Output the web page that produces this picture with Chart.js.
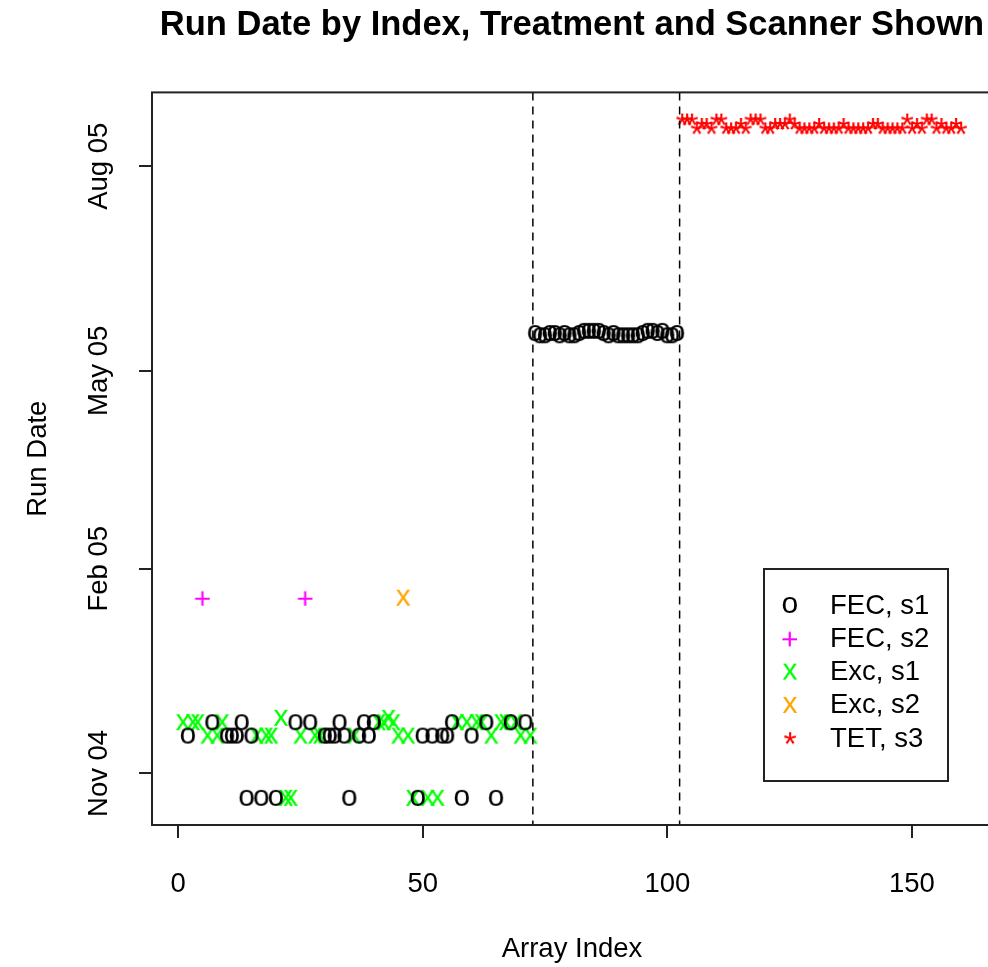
<!DOCTYPE html>
<html>
<head>
<meta charset="utf-8">
<title>Run Date by Index</title>
<script src="https://cdn.jsdelivr.net/npm/chart.js@4.4.1/dist/chart.umd.min.js"></script>
<style>
  html, body { margin: 0; padding: 0; background: #fff; overflow: hidden; }
  #wrap { width: 988px; height: 967px; overflow: hidden; }
  canvas { display: block; }
</style>
</head>
<body>
<div id="wrap"><canvas id="runDateChart" width="1144" height="967"></canvas></div>
<script>
// Array index and scan date for each treatment / scanner group
const fecS1Index = [2, 7, 10, 11, 12, 13, 14, 15, 17, 20, 24, 27, 30, 31, 32, 33, 34, 35, 37, 38,
  39, 40, 49, 50, 52, 54, 55, 56, 58, 60, 63, 65, 68, 71,
  73, 74, 75, 76, 77, 78, 79, 80, 81, 82, 83, 84, 85, 86, 87, 88, 89, 90, 91, 92, 93, 94, 95, 96,
  97, 98, 99, 100, 101, 102];
const fecS1Date = ['2004-11-18', '2004-11-24', '2004-11-18', '2004-11-18', '2004-11-18', '2004-11-24',
  '2004-10-21', '2004-11-18', '2004-10-21', '2004-10-21', '2004-11-24', '2004-11-24', '2004-11-18',
  '2004-11-18', '2004-11-18', '2004-11-24', '2004-11-18', '2004-10-21', '2004-11-18', '2004-11-24',
  '2004-11-18', '2004-11-24', '2004-10-21', '2004-11-18', '2004-11-18', '2004-11-18', '2004-11-18',
  '2004-11-24', '2004-10-21', '2004-11-18', '2004-11-24', '2004-10-21', '2004-11-24', '2004-11-24',
  '2005-05-18', '2005-05-17', '2005-05-17', '2005-05-18', '2005-05-18', '2005-05-17', '2005-05-18',
  '2005-05-17', '2005-05-17', '2005-05-18', '2005-05-19', '2005-05-19', '2005-05-19', '2005-05-19',
  '2005-05-18', '2005-05-17', '2005-05-18', '2005-05-17', '2005-05-17', '2005-05-17', '2005-05-17',
  '2005-05-17', '2005-05-18', '2005-05-19', '2005-05-19', '2005-05-18', '2005-05-19', '2005-05-17',
  '2005-05-17', '2005-05-18'];

const fecS2Index = [5, 26];
const fecS2Date = ['2005-01-19', '2005-01-19'];

const excS1Index = [1, 3, 4, 6, 8, 9, 16, 18, 19, 21, 22, 23, 25, 28, 29, 36, 41, 42, 43, 44,
  45, 47, 48, 51, 53, 57, 59, 61, 62, 64, 66, 67, 69, 70, 72];
const excS1Date = ['2004-11-24', '2004-11-24', '2004-11-24', '2004-11-18', '2004-11-18', '2004-11-24',
  '2004-11-18', '2004-11-18', '2004-11-18', '2004-11-26', '2004-10-21', '2004-10-21', '2004-11-18',
  '2004-11-18', '2004-11-18', '2004-11-18', '2004-11-24', '2004-11-24', '2004-11-26', '2004-11-24',
  '2004-11-18', '2004-11-18', '2004-10-21', '2004-10-21', '2004-10-21', '2004-11-24', '2004-11-24',
  '2004-11-24', '2004-11-24', '2004-11-18', '2004-11-24', '2004-11-24', '2004-11-24', '2004-11-18',
  '2004-11-18'];

const excS2Index = [46];
const excS2Date = ['2005-01-19'];

const tetS3Index = [103, 104, 105, 106, 107, 108, 109, 110, 111, 112, 113, 114, 115, 116, 117, 118,
  119, 120, 121, 122, 123, 124, 125, 126, 127, 128, 129, 130, 131, 132, 133, 134, 135, 136, 137,
  138, 139, 140, 141, 142, 143, 144, 145, 146, 147, 148, 149, 150, 151, 152, 153, 154, 155, 156,
  157, 158, 159, 160];
const tetS3Date = ['2005-08-22', '2005-08-22', '2005-08-22', '2005-08-18', '2005-08-20', '2005-08-20',
  '2005-08-18', '2005-08-22', '2005-08-22', '2005-08-18', '2005-08-18', '2005-08-18', '2005-08-20',
  '2005-08-18', '2005-08-22', '2005-08-22', '2005-08-22', '2005-08-18', '2005-08-18', '2005-08-20',
  '2005-08-20', '2005-08-20', '2005-08-22', '2005-08-20', '2005-08-18', '2005-08-18', '2005-08-18',
  '2005-08-18', '2005-08-20', '2005-08-18', '2005-08-18', '2005-08-18', '2005-08-18', '2005-08-20',
  '2005-08-18', '2005-08-18', '2005-08-18', '2005-08-18', '2005-08-18', '2005-08-20', '2005-08-20',
  '2005-08-18', '2005-08-18', '2005-08-18', '2005-08-18', '2005-08-18', '2005-08-22', '2005-08-18',
  '2005-08-20', '2005-08-18', '2005-08-22', '2005-08-22', '2005-08-18', '2005-08-20', '2005-08-18',
  '2005-08-18', '2005-08-20', '2005-08-18'];

// batch boundaries (dashed lines)
const batchBreaks = [72.5, 102.5];

// axis ticks
const xTicks = [0, 50, 100, 150];
const yTickDates = ['2004-11-01', '2005-02-01', '2005-05-01', '2005-08-01'];
const yTickLabels = ['Nov 04', 'Feb 05', 'May 05', 'Aug 05'];

const FONT = '"Liberation Sans", Arial, Helvetica, sans-serif';
const TEXT_SIZE = 27.5;
const SYMBOL_SIZE = 30;
Chart.defaults.font.family = FONT;
Chart.defaults.color = '#000';

// days since 2004-11-01
const EPOCH = Date.UTC(2004, 10, 1);
function dayNum(s) {
  const [y, m, d] = s.split('-').map(Number);
  return (Date.UTC(y, m - 1, d) - EPOCH) / 86400000;
}

function toPoints(idx, dates) {
  return idx.map((x, i) => ({ x: x, y: dayNum(dates[i]) }));
}

// plot characters, drawn like text symbols centred on their ink
function glyph(ch, color, size) {
  const c = document.createElement('canvas');
  c.width = 40; c.height = 40;
  const g = c.getContext('2d');
  g.font = size + 'px ' + FONT;
  g.fillStyle = color;
  const m = g.measureText(ch);
  const w = m.actualBoundingBoxLeft + m.actualBoundingBoxRight;
  const h = m.actualBoundingBoxAscent + m.actualBoundingBoxDescent;
  const x = 20 - w / 2 + m.actualBoundingBoxLeft;
  const y = 20 - h / 2 + m.actualBoundingBoxAscent;
  g.fillText(ch, x, y);
  return c;
}

const series = [
  { label: 'FEC, s1', idx: fecS1Index, dates: fecS1Date, ch: 'o', color: '#000000' },
  { label: 'FEC, s2', idx: fecS2Index, dates: fecS2Date, ch: '+', color: '#FF00FF' },
  { label: 'Exc, s1', idx: excS1Index, dates: excS1Date, ch: 'x', color: '#00FF00' },
  { label: 'Exc, s2', idx: excS2Index, dates: excS2Date, ch: 'x', color: '#FFA500' },
  { label: 'TET, s3', idx: tetS3Index, dates: tetS3Date, ch: '*', color: '#FF0000' }
];

const datasets = series.map(s => ({
  label: s.label,
  data: toPoints(s.idx, s.dates),
  pointStyle: glyph(s.ch, s.color, s.ch === '*' ? SYMBOL_SIZE + 4 : SYMBOL_SIZE),
  pointRadius: 8,
  borderColor: s.color,
  backgroundColor: s.color,
  showLine: false,
  yAxisID: 'y'
}));

// axis limits padded 4% like base R
const allX = series.flatMap(s => s.idx);
const allY = series.flatMap(s => s.dates.map(dayNum));
const xLo = Math.min(...allX), xHi = Math.max(...allX);
const yLo = Math.min(...allY), yHi = Math.max(...allY);
const xPad = (xHi - xLo) * 0.04, yPad = (yHi - yLo) * 0.04;

// plot frame plus dashed batch separators
const frame = {
  id: 'frame',
  afterDatasetsDraw(chart) {
    const { ctx, chartArea: a, scales } = chart;
    ctx.save();
    ctx.strokeStyle = '#000';
    ctx.lineWidth = 1.5;
    ctx.setLineDash([8, 6]);
    batchBreaks.forEach(v => {
      const px = scales.x.getPixelForValue(v);
      ctx.beginPath();
      ctx.moveTo(px, a.top);
      ctx.lineTo(px, a.bottom);
      ctx.stroke();
    });
    ctx.setLineDash([]);
    ctx.strokeStyle = '#222';
    ctx.lineWidth = 2;
    ctx.strokeRect(a.left, a.top, a.right - a.left, a.bottom - a.top);
    ctx.restore();
  }
};

// legend panel in the lower right of the plot
const legendPanel = {
  id: 'legendPanel',
  afterDraw(chart) {
    const { ctx, chartArea: a } = chart;
    const x0 = a.right - 228, y0 = a.bottom - 256, w = 184, h = 212;
    ctx.save();
    ctx.fillStyle = '#fff';
    ctx.fillRect(x0, y0, w, h);
    ctx.strokeStyle = '#222';
    ctx.lineWidth = 2;
    ctx.strokeRect(x0, y0, w, h);
    ctx.font = TEXT_SIZE + 'px ' + FONT;
    ctx.textBaseline = 'middle';
    ctx.fillStyle = '#000';
    chart.data.datasets.forEach((ds, i) => {
      const cy = y0 + 36 + i * 33.3;
      const img = ds.pointStyle;
      ctx.drawImage(img, x0 + 26 - img.width / 2, cy - img.height / 2);
      ctx.fillText(ds.label, x0 + 66, cy + 1);
    });
    ctx.restore();
  }
};

new Chart(document.getElementById('runDateChart'), {
  type: 'scatter',
  data: { datasets },
  options: {
    responsive: false,
    animation: false,
    layout: { padding: 0 },
    plugins: {
      legend: { display: false },
      tooltip: { enabled: false },
      title: {
        display: true,
        text: 'Run Date by Index, Treatment and Scanner Shown',
        color: '#000',
        font: { size: 34.5, weight: 'bold', lineHeight: 1.2 },
        padding: { top: 5, bottom: 46 }
      }
    },
    scales: {
      x: {
        type: 'linear',
        min: xLo - xPad,
        max: xHi + xPad,
        afterBuildTicks: s => { s.ticks = xTicks.map(v => ({ value: v })); },
        afterFit: s => { s.height = 142; },
        grid: { drawOnChartArea: false, tickLength: 13, color: '#222', lineWidth: 2 },
        border: { display: false },
        ticks: { font: { size: TEXT_SIZE }, padding: 30, maxRotation: 0, callback: v => String(v) },
        title: { display: true, text: 'Array Index', font: { size: TEXT_SIZE }, padding: { bottom: 1 } }
      },
      y: {
        type: 'linear',
        position: 'left',
        min: yLo - yPad,
        max: yHi + yPad,
        afterBuildTicks: s => { s.ticks = yTickDates.map(d => ({ value: dayNum(d) })); },
        afterFit: s => { s.width = 152; },
        grid: { drawOnChartArea: false, tickLength: 13, color: '#222', lineWidth: 2 },
        border: { display: false },
        ticks: {
          font: { size: TEXT_SIZE },
          padding: -6,
          minRotation: 90,
          maxRotation: 90,
          crossAlign: 'center',
          callback: (v, i) => yTickLabels[i]
        },
        title: { display: true, text: 'Run Date', font: { size: TEXT_SIZE }, padding: { top: 22 } }
      },
      // empty right margin so the plot box runs past the page edge
      yRight: {
        type: 'linear',
        position: 'right',
        grid: { display: false },
        border: { display: false },
        ticks: { display: false },
        afterFit: s => { s.width = 152; }
      }
    }
  },
  plugins: [frame, legendPanel]
});
</script>
</body>
</html>
